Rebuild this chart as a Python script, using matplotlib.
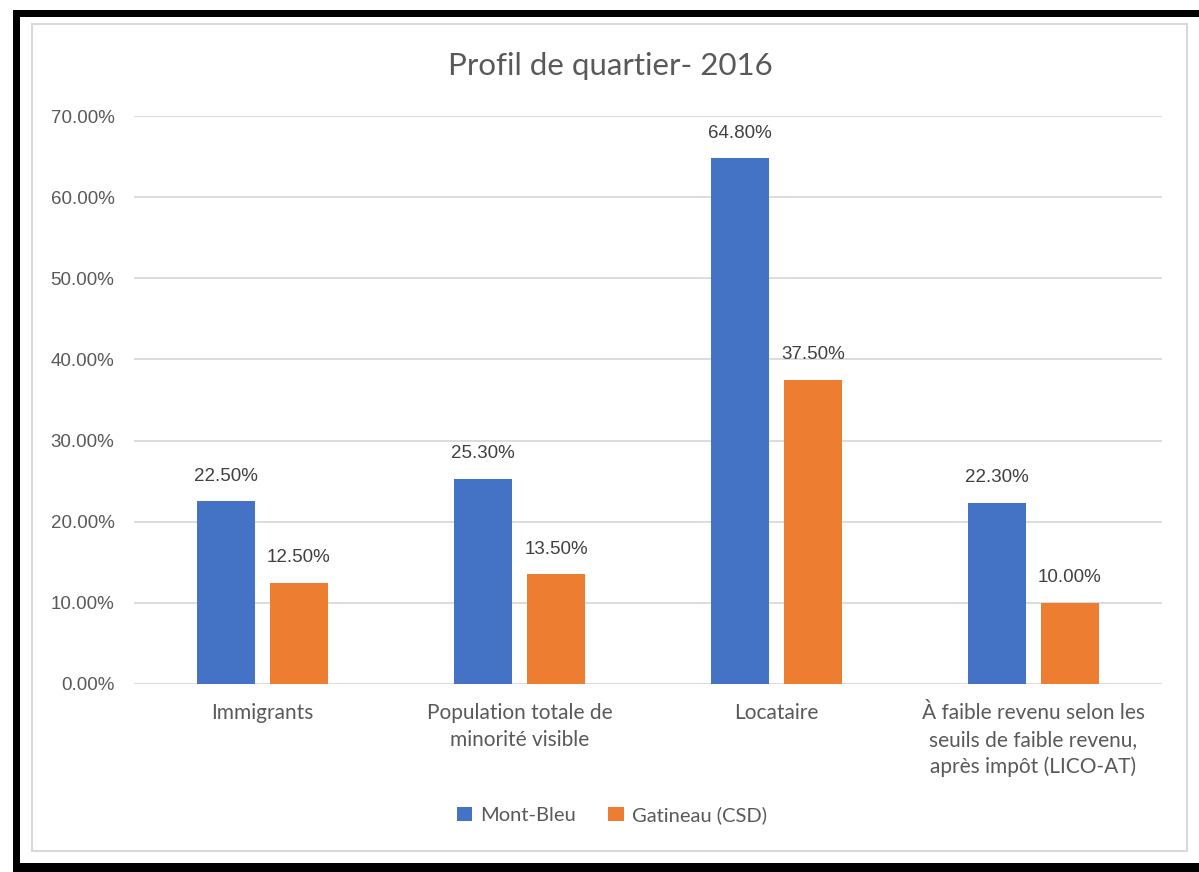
import matplotlib
matplotlib.use("Agg")
import matplotlib.pyplot as plt
import numpy as np
from matplotlib.patches import Rectangle
from matplotlib.ticker import FuncFormatter

categories = [
    "Immigrants",
    "Population totale de\nminorité visible",
    "Locataire",
    "À faible revenu selon les\nseuils de faible revenu,\naprès impôt (LICO-AT)",
]
mont_bleu = [22.5, 25.3, 64.8, 22.3]
gatineau = [12.5, 13.5, 37.5, 10.0]
series_names = ["Mont-Bleu", "Gatineau (CSD)"]

BLUE = "#4472C4"
ORANGE = "#ED7D31"
TEXT = "#595959"
GRID = "#D9D9D9"
TXT_FONT = ["Lato", "DejaVu Sans"]
NUM_FONT = ["Liberation Sans", "DejaVu Sans"]

W, H = 1199, 872
fig = plt.figure(figsize=(W / 100, H / 100), dpi=100)


def px_rect(x0, y0, x1, y1, **kw):
    # rectangle en pixels (origine en haut à gauche)
    r = Rectangle((x0 / W, 1 - y1 / H), (x1 - x0) / W, (y1 - y0) / H,
                  transform=fig.transFigure, **kw)
    fig.patches.append(r)


# cadre noir + cadre gris du graphique
px_rect(13, 10, W, 17, facecolor="black", edgecolor="none")
px_rect(13, 10, 20, H, facecolor="black", edgecolor="none")
px_rect(13, 863, W, H, facecolor="black", edgecolor="none")
px_rect(32, 24, 1187, 851, facecolor="none", edgecolor=GRID, linewidth=1.5)

ax_l, ax_r, ax_t, ax_b = 134, 1162, 116, 684
ax = fig.add_axes([ax_l / W, 1 - ax_b / H, (ax_r - ax_l) / W, (ax_b - ax_t) / H])

x = np.arange(len(categories))
width = 0.222
off = 0.142
b1 = ax.bar(x - off, mont_bleu, width, color=BLUE, label=series_names[0], zorder=3)
b2 = ax.bar(x + off, gatineau, width, color=ORANGE, label=series_names[1], zorder=3)

for bars, vals in ((b1, mont_bleu), (b2, gatineau)):
    for b, v in zip(bars, vals):
        ax.annotate(f"{v:.2f}%", (b.get_x() + b.get_width() / 2, v),
                    xytext=(0, 12), textcoords="offset points", ha="center", va="bottom",
                    fontsize=13.5, color="#404040", family=NUM_FONT)

ax.set_xlim(-0.5, 3.5)
ax.set_ylim(0, 70)
ax.set_yticks(np.arange(0, 71, 10))
ax.yaxis.set_major_formatter(FuncFormatter(lambda v, p: f"{v:.2f}%"))
ax.grid(axis="y", color=GRID, linewidth=1.3, zorder=0)
for s in ax.spines.values():
    s.set_visible(False)
ax.tick_params(axis="both", length=0)
ax.tick_params(axis="y", pad=14, labelsize=13.5, labelcolor=TEXT)
for lab in ax.get_yticklabels():
    lab.set_family(NUM_FONT)

ax.set_xticks(x)
ax.set_xticklabels(categories, fontsize=15, color=TEXT, family=TXT_FONT,
                   linespacing=1.4, va="top")
ax.tick_params(axis="x", pad=14)

fig.text(610 / W, 1 - 66 / H, "Profil de quartier- 2016", ha="center", va="center",
         fontsize=22.5, color=TEXT, family=TXT_FONT)

leg = fig.legend(handles=[b1, b2], loc="center", bbox_to_anchor=(612 / W, 1 - 815 / H),
                 ncol=2, frameon=False, fontsize=14.5, handlelength=0.75, handleheight=0.75,
                 handletextpad=0.4, columnspacing=1.6)
for t in leg.get_texts():
    t.set_color(TEXT)
    t.set_family(TXT_FONT)

fig.savefig("out.png", dpi=100, facecolor="white")
